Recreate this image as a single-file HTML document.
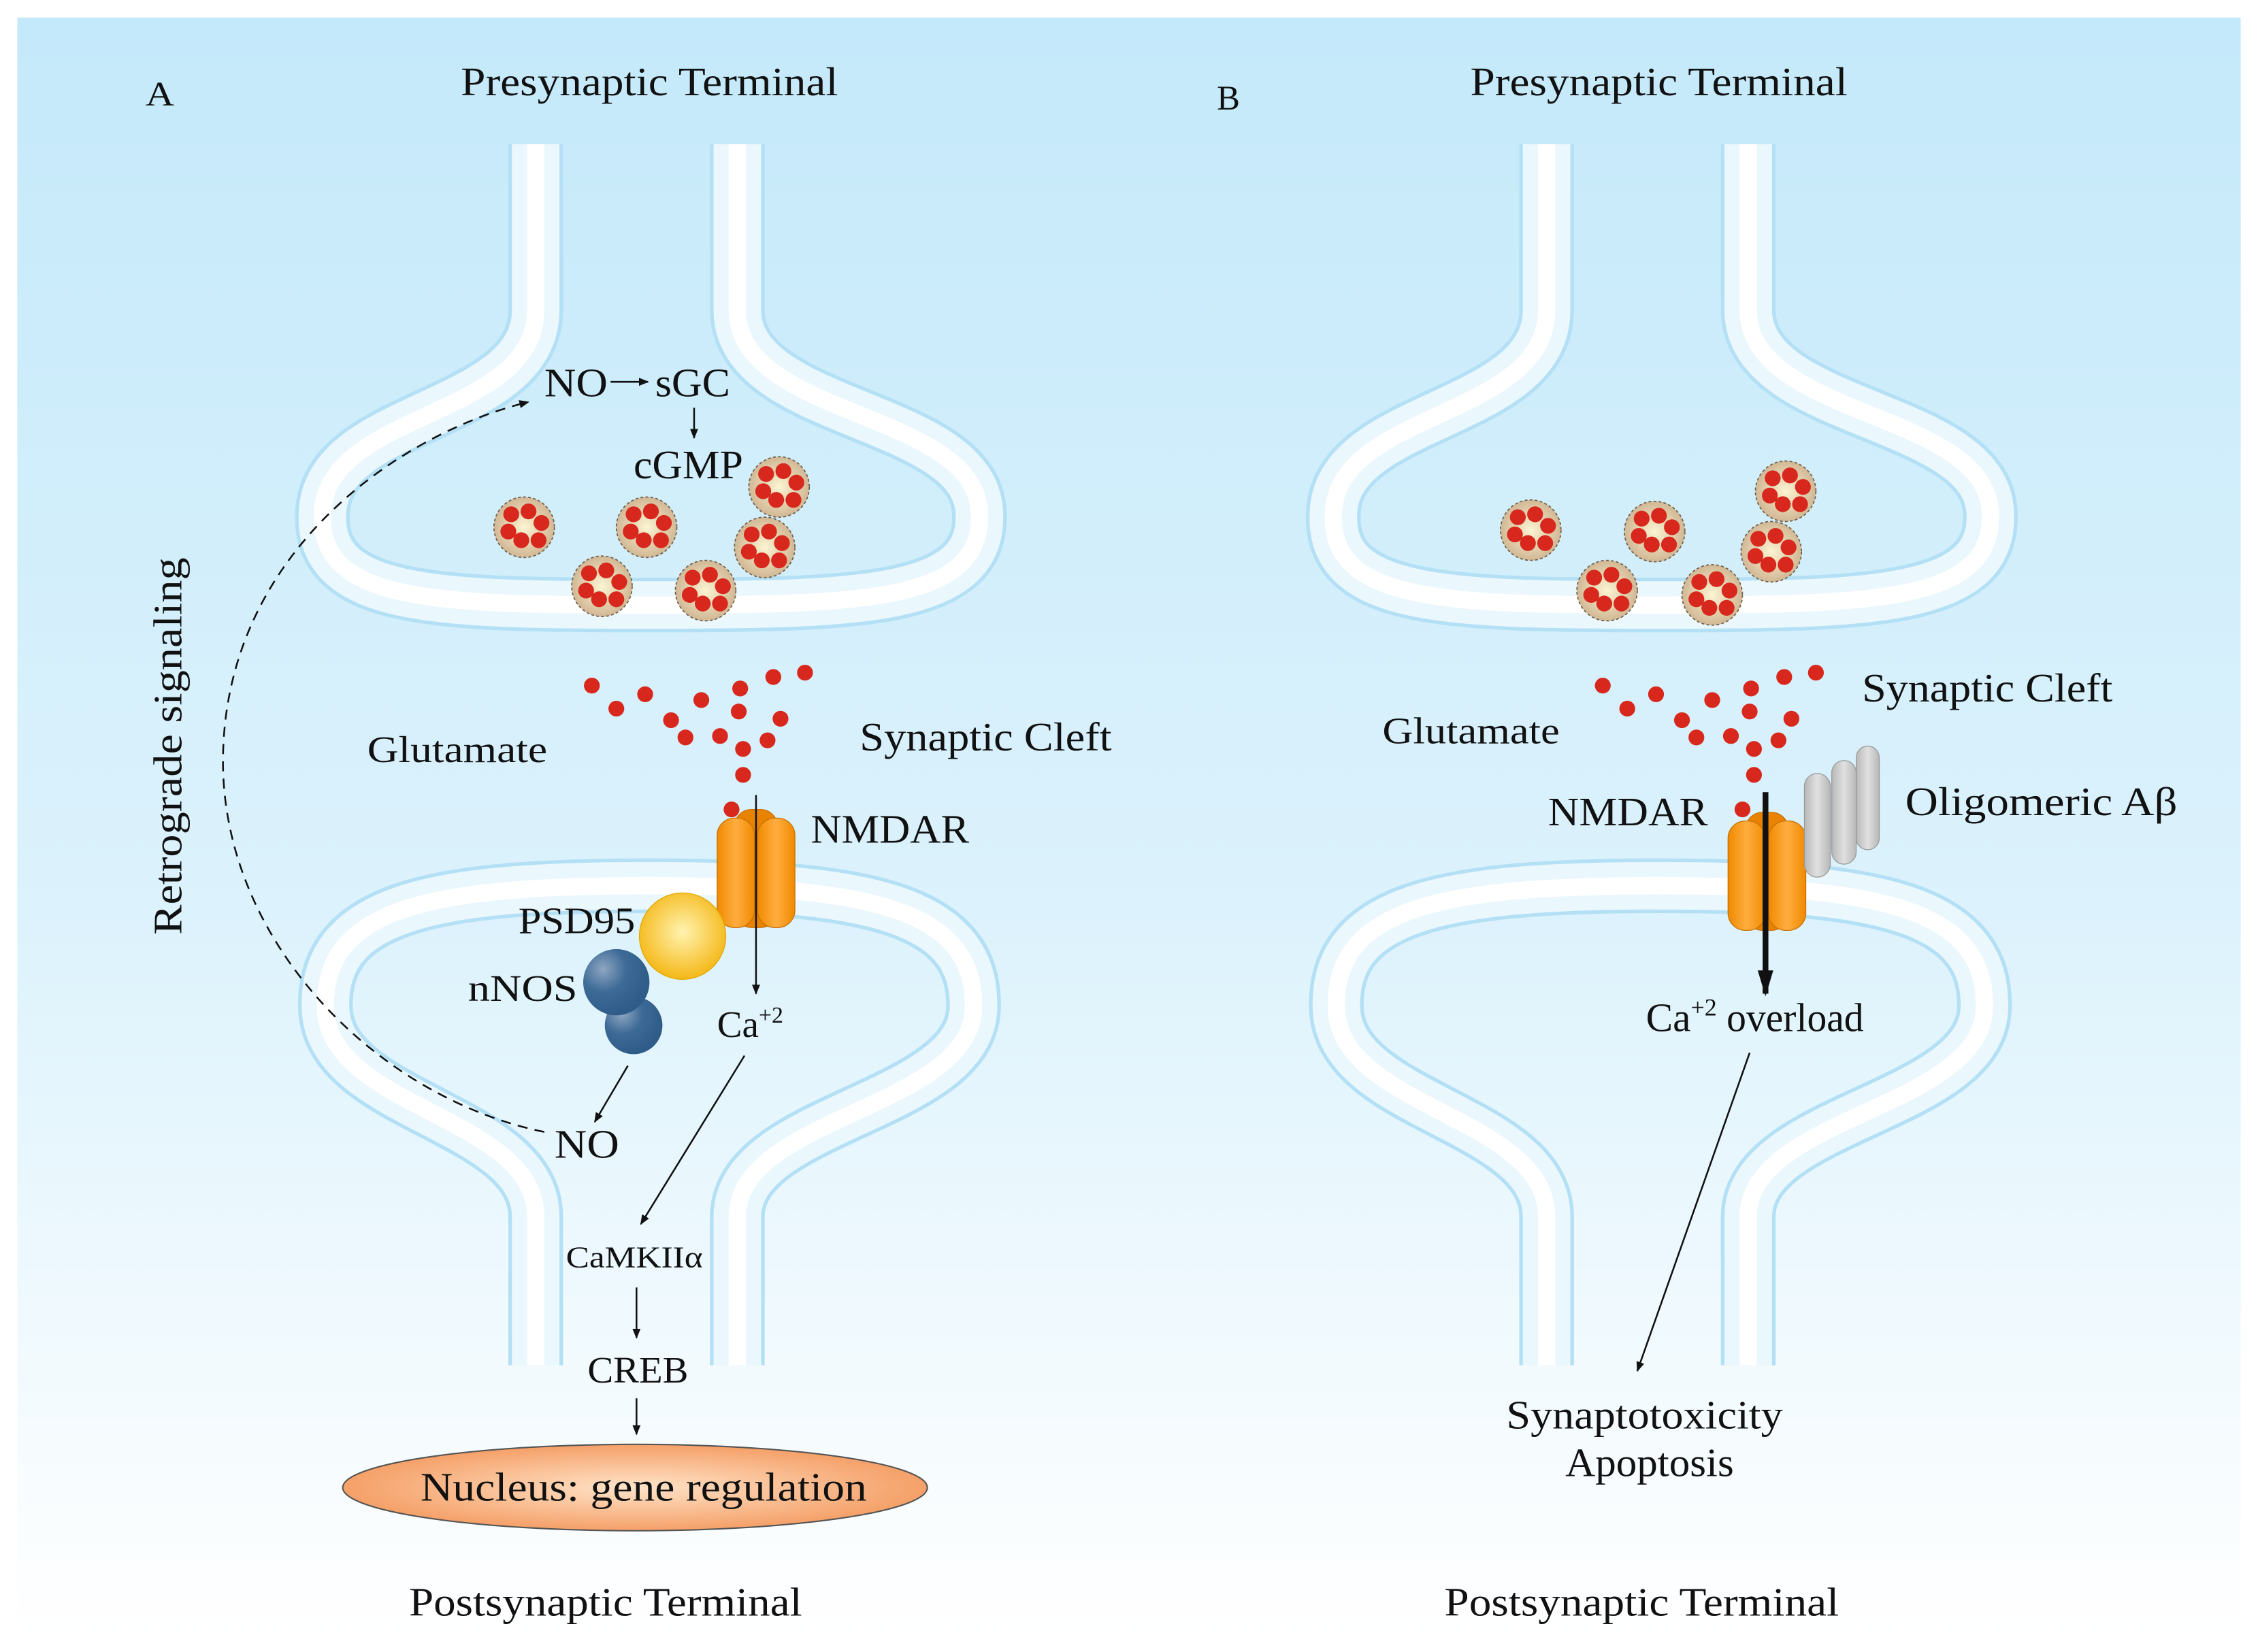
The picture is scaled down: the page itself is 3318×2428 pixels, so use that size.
<!DOCTYPE html>
<html><head><meta charset="utf-8"><style>
html,body{margin:0;padding:0;background:#fff;}
svg{display:block;}
text{font-family:"Liberation Serif",serif;fill:#111;}
</style></head><body>
<svg width="3318" height="2428" viewBox="0 0 1568 1147" xmlns="http://www.w3.org/2000/svg">
<defs>
<linearGradient id="bg" x1="0" y1="0" x2="0" y2="1">
<stop offset="0" stop-color="#c4e9fa"/><stop offset="0.55" stop-color="#dcf2fc"/><stop offset="1" stop-color="#ffffff"/>
</linearGradient>
<radialGradient id="ves" cx="0.5" cy="0.5" r="0.5"><stop offset="0" stop-color="#fbf4d2"/><stop offset="1" stop-color="#d2b895"/></radialGradient>
<radialGradient id="yel" cx="0.5" cy="0.45" r="0.55"><stop offset="0" stop-color="#fff3b0"/><stop offset="1" stop-color="#f5b818"/></radialGradient>
<radialGradient id="blu" cx="0.3" cy="0.3" r="0.7"><stop offset="0" stop-color="#8ea6c2"/><stop offset="0.5" stop-color="#3d6a96"/><stop offset="1" stop-color="#2f5c88"/></radialGradient>
<linearGradient id="org" x1="0" y1="0" x2="1" y2="0"><stop offset="0" stop-color="#f08a00"/><stop offset="0.5" stop-color="#ffad40"/><stop offset="1" stop-color="#f08a00"/></linearGradient>
<linearGradient id="gry" x1="0" y1="0" x2="1" y2="0"><stop offset="0" stop-color="#b8b8b8"/><stop offset="0.5" stop-color="#e0e0e0"/><stop offset="1" stop-color="#b8b8b8"/></linearGradient>
<radialGradient id="nuc" cx="0.5" cy="0.5" r="0.5"><stop offset="0" stop-color="#ffe3c8"/><stop offset="1" stop-color="#f5a068"/></radialGradient>
<marker id="ah" viewBox="0 0 10 10" refX="9" refY="5" markerWidth="7" markerHeight="7" orient="auto" markerUnits="userSpaceOnUse"><path d="M0,1 L10,5 L0,9 z" fill="#111"/></marker>
<marker id="ahb" viewBox="0 0 10 10" refX="9" refY="5" markerWidth="18" markerHeight="18" orient="auto" markerUnits="userSpaceOnUse"><path d="M0,2 L10,5 L0,8 z" fill="#111"/></marker>
<path id="prep" d="M372,100 L372,215 C372,290 228,285 224,355 C220,418 300,420 450,420 C600,420 684,418 680,355 C676,285 512,290 512,215 L512,100"/>
<path id="postp" d="M372,948 L372,845 C372,775 228,770 226,700 C224,630 300,615 450,615 C600,615 678,630 676,700 C674,770 512,775 512,845 L512,948"/>
<g id="pre" fill="none">
<use href="#prep" stroke="#b4e0f5" stroke-width="38"/>
<use href="#prep" stroke="#eaf7fd" stroke-width="33"/>
<use href="#prep" stroke="#ffffff" stroke-width="12"/>
</g>
<g id="post" fill="none">
<use href="#postp" stroke="#b4e0f5" stroke-width="38"/>
<use href="#postp" stroke="#eaf7fd" stroke-width="33"/>
<use href="#postp" stroke="#ffffff" stroke-width="12"/>
</g>
<g id="v">
<circle r="21" fill="url(#ves)" stroke="#6d5f4c" stroke-width="0.8" stroke-dasharray="2 1.5"/>
<g fill="#d8281d"><circle cx="-9" cy="-9" r="5.5"/><circle cx="3" cy="-11" r="5.5"/><circle cx="12" cy="-3" r="5.5"/><circle cx="-11" cy="3" r="5.5"/><circle cx="-2" cy="9" r="5.5"/><circle cx="10" cy="9" r="5.5"/></g>
</g>
<g id="glu" fill="#d8281d">
<circle cx="411" cy="476" r="5.5"/><circle cx="448" cy="482" r="5.5"/><circle cx="487" cy="486" r="5.5"/><circle cx="514" cy="478" r="5.5"/><circle cx="537" cy="470" r="5.5"/><circle cx="559" cy="467" r="5.5"/>
<circle cx="428" cy="492" r="5.5"/><circle cx="466" cy="500" r="5.5"/><circle cx="513" cy="494" r="5.5"/><circle cx="542" cy="499" r="5.5"/><circle cx="476" cy="512" r="5.5"/><circle cx="500" cy="511" r="5.5"/><circle cx="533" cy="514" r="5.5"/><circle cx="516" cy="520" r="5.5"/><circle cx="516" cy="538" r="5.5"/><circle cx="508" cy="562" r="5.5"/>
</g>
<g id="nmdar">
<rect x="510" y="562" width="30" height="82" rx="12" fill="#e88300" stroke="#c86e00" stroke-width="0.6"/>
<rect x="498" y="568" width="26" height="76" rx="12" fill="url(#org)" stroke="#c86e00" stroke-width="0.6"/>
<rect x="526" y="568" width="26" height="76" rx="12" fill="url(#org)" stroke="#c86e00" stroke-width="0.6"/>
</g>
</defs>
<rect x="0" y="0" width="1568" height="1147" fill="#fff"/>
<rect x="12" y="12" width="1544" height="1124" fill="url(#bg)"/>

<!-- Panel A -->
<use href="#pre"/>
<use href="#post"/>
<use href="#v" x="364" y="366"/><use href="#v" x="449" y="366"/><use href="#v" x="541" y="338"/>
<use href="#v" x="418" y="407"/><use href="#v" x="490" y="410"/><use href="#v" x="531" y="380"/>
<use href="#glu"/>
<use href="#nmdar"/>
<circle cx="474" cy="650" r="30" fill="url(#yel)" stroke="#e0a800" stroke-width="0.6"/>
<circle cx="440" cy="712" r="20" fill="url(#blu)"/>
<circle cx="428" cy="682" r="23" fill="url(#blu)"/>
<line x1="525" y1="552" x2="525" y2="690" stroke="#111" stroke-width="1.2" marker-end="url(#ah)"/>
<text x="101" y="73" font-size="24" textLength="20" lengthAdjust="spacingAndGlyphs">A</text>
<text x="320" y="66" font-size="28" textLength="262" lengthAdjust="spacingAndGlyphs">Presynaptic Terminal</text>
<text x="378" y="275" font-size="28" textLength="44" lengthAdjust="spacingAndGlyphs">NO</text>
<line x1="424" y1="265" x2="450" y2="265" stroke="#111" stroke-width="1.2" marker-end="url(#ah)"/>
<text x="455" y="275" font-size="28" textLength="52" lengthAdjust="spacingAndGlyphs">sGC</text>
<line x1="482" y1="283" x2="482" y2="304" stroke="#111" stroke-width="1.2" marker-end="url(#ah)"/>
<text x="440" y="332" font-size="28" textLength="76" lengthAdjust="spacingAndGlyphs">cGMP</text>
<text x="255" y="529" font-size="26" textLength="125" lengthAdjust="spacingAndGlyphs">Glutamate</text>
<text x="597" y="521" font-size="28" textLength="175" lengthAdjust="spacingAndGlyphs">Synaptic Cleft</text>
<text x="563" y="585" font-size="28" textLength="110" lengthAdjust="spacingAndGlyphs">NMDAR</text>
<text x="360" y="648" font-size="26" textLength="81" lengthAdjust="spacingAndGlyphs">PSD95</text>
<text x="325" y="695" font-size="26" textLength="76" lengthAdjust="spacingAndGlyphs">nNOS</text>
<text x="498" y="720" font-size="26">Ca<tspan font-size="16" dy="-10">+2</tspan></text>
<line x1="436" y1="740" x2="413" y2="779" stroke="#111" stroke-width="1.2" marker-end="url(#ah)"/>
<text x="385" y="804" font-size="28" textLength="45" lengthAdjust="spacingAndGlyphs">NO</text>
<line x1="517" y1="733" x2="445" y2="850" stroke="#111" stroke-width="1.2" marker-end="url(#ah)"/>
<text x="393" y="880" font-size="21" textLength="95" lengthAdjust="spacingAndGlyphs">CaMKIIα</text>
<line x1="442" y1="894" x2="442" y2="929" stroke="#111" stroke-width="1.2" marker-end="url(#ah)"/>
<text x="408" y="960" font-size="26" textLength="70" lengthAdjust="spacingAndGlyphs">CREB</text>
<line x1="442" y1="971" x2="442" y2="996" stroke="#111" stroke-width="1.2" marker-end="url(#ah)"/>
<ellipse cx="441" cy="1033" rx="203" ry="30" fill="url(#nuc)" stroke="#555" stroke-width="1"/>
<text x="292" y="1042" font-size="28" textLength="310" lengthAdjust="spacingAndGlyphs">Nucleus: gene regulation</text>
<text x="284" y="1122" font-size="28" textLength="273" lengthAdjust="spacingAndGlyphs">Postsynaptic Terminal</text>
<text transform="translate(126,518) rotate(-90)" x="-131" font-size="28" textLength="262" lengthAdjust="spacingAndGlyphs">Retrograde signaling</text>
<path d="M378,786 C260,762 150,650 155,520 C160,380 280,300 367,279" fill="none" stroke="#111" stroke-width="1.2" stroke-dasharray="7 5" marker-end="url(#ah)"/>

<!-- Panel B -->
<g transform="translate(702,0)">
<use href="#pre"/>
<use href="#post"/>
<use href="#v" x="361" y="368"/><use href="#v" x="447" y="369"/><use href="#v" x="538" y="341"/>
<use href="#v" x="414" y="410"/><use href="#v" x="487" y="413"/><use href="#v" x="528" y="383"/>
<use href="#glu" y="0"/>
</g>
<g transform="translate(702,2)"><use href="#nmdar"/></g>
<g stroke="#9a9a9a" stroke-width="0.6">
<rect x="1289" y="518" width="16" height="72" rx="8" fill="url(#gry)"/>
<rect x="1272" y="528" width="17" height="72" rx="8.5" fill="url(#gry)"/>
<rect x="1253" y="537" width="18" height="72" rx="9" fill="url(#gry)"/>
</g>
<line x1="1226" y1="550" x2="1226" y2="690" stroke="#111" stroke-width="4" marker-end="url(#ahb)"/>
<text x="845" y="76" font-size="24" textLength="16" lengthAdjust="spacingAndGlyphs">B</text>
<text x="1021" y="66" font-size="28" textLength="262" lengthAdjust="spacingAndGlyphs">Presynaptic Terminal</text>
<text x="960" y="516" font-size="26" textLength="123" lengthAdjust="spacingAndGlyphs">Glutamate</text>
<text x="1293" y="487" font-size="28" textLength="174" lengthAdjust="spacingAndGlyphs">Synaptic Cleft</text>
<text x="1075" y="573" font-size="28" textLength="111" lengthAdjust="spacingAndGlyphs">NMDAR</text>
<text x="1323" y="566" font-size="28" textLength="189" lengthAdjust="spacingAndGlyphs">Oligomeric  Aβ</text>
<text x="1143" y="716" font-size="28">Ca<tspan font-size="17" dy="-11">+2</tspan><tspan dy="11" textLength="102" lengthAdjust="spacingAndGlyphs"> overload</tspan></text>
<line x1="1215" y1="731" x2="1137" y2="952" stroke="#111" stroke-width="1.2" marker-end="url(#ah)"/>
<text x="1046" y="992" font-size="28" textLength="192" lengthAdjust="spacingAndGlyphs">Synaptotoxicity</text>
<text x="1087" y="1025" font-size="28" textLength="117" lengthAdjust="spacingAndGlyphs">Apoptosis</text>
<text x="1003" y="1122" font-size="28" textLength="274" lengthAdjust="spacingAndGlyphs">Postsynaptic Terminal</text>
</svg>
</body></html>
